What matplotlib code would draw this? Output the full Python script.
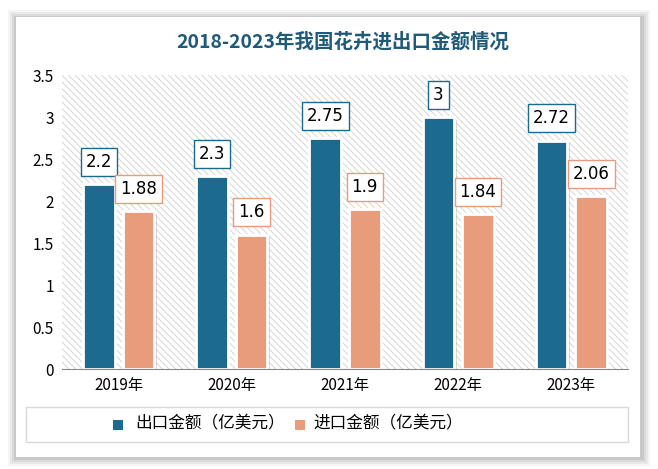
import numpy as np
import matplotlib.pyplot as plt
from matplotlib.patches import Rectangle, FancyBboxPatch

plt.rcParams['font.family'] = ['Noto Sans CJK SC', 'DejaVu Sans']
plt.rcParams['hatch.color'] = '#d0d0d0'
plt.rcParams['hatch.linewidth'] = 0.6

years = ["2019年", "2020年", "2021年", "2022年", "2023年"]
export_vals = [2.2, 2.3, 2.75, 3, 2.72]
import_vals = [1.88, 1.6, 1.9, 1.84, 2.06]
series_names = ["出口金额（亿美元）", "进口金额（亿美元）"]
colors = ["#1c6a8e", "#e89c7c"]

W, H = 658, 469
fig = plt.figure(figsize=(W / 100, H / 100), dpi=100)
fig.patch.set_facecolor('white')

# card with soft shadow
for i, a in enumerate([0.04, 0.05, 0.06, 0.08]):
    d = 8 - 2 * i
    fig.patches.append(Rectangle(((16 - d) / W, 1 - (458 + d) / H), (626 + 2 * d) / W, (440 + 2 * d) / H,
                                 transform=fig.transFigure, facecolor='black', alpha=a,
                                 edgecolor='none', zorder=0))
fig.patches.append(Rectangle((16 / W, 1 - 457 / H), 624 / W, 440 / H, transform=fig.transFigure,
                             facecolor='white', edgecolor='none', zorder=1))

ax = fig.add_axes([62 / W, 1 - 369 / H, 566 / W, 294 / H])
ax.set_zorder(2)
ax.patch.set_alpha(0)
x = np.arange(len(years))
ax.set_xlim(-0.5, len(years) - 0.5)
ax.set_ylim(0, 3.5)
ax.add_patch(Rectangle((-0.5, 0), len(years), 3.5, facecolor='white', hatch='\\\\\\\\\\',
                       edgecolor='#d0d0d0', linewidth=0, zorder=0))

bw = 0.28
off = 0.175
for vals, sign, c in [(export_vals, -1, colors[0]), (import_vals, 1, colors[1])]:
    xs = x + sign * off
    # shadow
    ax.bar(xs + 0.02, vals, bw, bottom=-0.03, color='#999999', alpha=0.35, zorder=1)
    ax.bar(xs, vals, bw, color=c, edgecolor='white', linewidth=2, zorder=2)
    for xi, v in zip(xs, vals):
        ax.annotate(f"{v:g}", (xi, v), xytext=(0, 16), textcoords='offset points',
                    ha='center', va='center', fontsize=12, family=['DejaVu Sans'],
                    bbox=dict(boxstyle='square,pad=0.3', facecolor='white', edgecolor=c, linewidth=1),
                    zorder=5)

ax.set_xticks(x)
ax.set_xticklabels(years, fontsize=11)
ax.set_yticks(np.arange(0, 3.6, 0.5))
ax.set_yticklabels([f"{t:g}" for t in np.arange(0, 3.6, 0.5)], fontsize=11)
ax.tick_params(length=0, pad=6)
for s in ['top', 'right', 'left']:
    ax.spines[s].set_visible(False)
ax.spines['bottom'].set_color('#888888')

fig.text(343 / W, 1 - 42 / H, "2018-2023年我国花卉进出口金额情况", ha='center', va='center',
         fontsize=14, fontweight='bold', color='#1f5a78', zorder=3)

# legend box
fig.patches.append(Rectangle((26 / W, 1 - 442 / H), 602 / W, 35 / H, transform=fig.transFigure,
                             facecolor='white', edgecolor='#d8d8d8', linewidth=1, zorder=3))
for (mx, tx), name, c in zip([(118, 135), (300, 313)], series_names, colors):
    fig.patches.append(Rectangle(((mx - 5) / W, 1 - 430 / H), 10 / W, 10 / H, transform=fig.transFigure,
                                 facecolor=c, edgecolor='none', zorder=4))
    fig.text(tx / W, 1 - 424 / H, name, ha='left', va='center', fontsize=12, zorder=4)

fig.savefig("out.png", dpi=100, facecolor='white')
